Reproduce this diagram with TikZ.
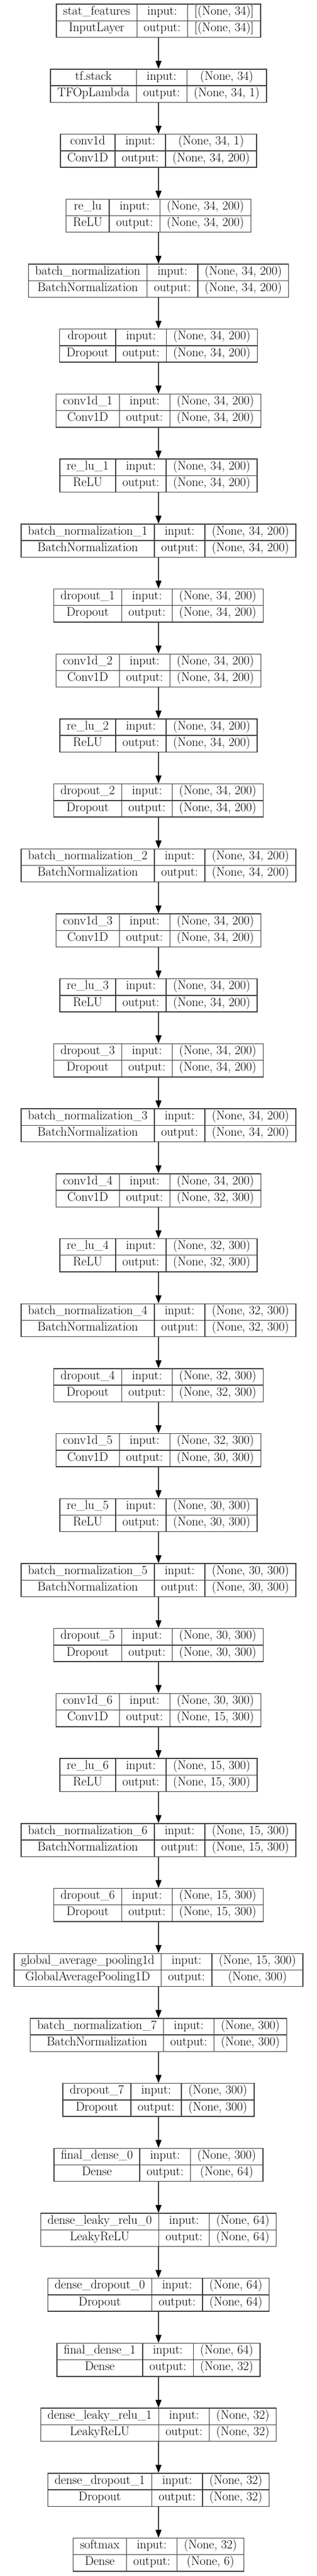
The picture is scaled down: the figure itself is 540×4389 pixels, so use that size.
\documentclass[tikz,border=0pt]{standalone}
\usepackage{fontspec}
\usepackage{colortbl}
\usetikzlibrary{arrows.meta}
\usetikzlibrary{positioning}

\setlength{\arrayrulewidth}{1.4pt}
\setlength{\tabcolsep}{11pt}
\arrayrulecolor{black!75}
\newcommand{\lstrut}{\rule[-9.3pt]{0pt}{19pt}}
\newcommand{\kerasbox}[4]{%
  \begin{tabular}{|c|c|c|}\hline
    \lstrut #1 & input: & #3\\\hline
    \lstrut #2 & output: & #4\\\hline
  \end{tabular}}

\begin{document}
\begin{tikzpicture}[
    node distance=110.7pt,
    layer/.style={inner sep=0pt, outer sep=0pt, font=\fontsize{21.3}{25}\selectfont},
    flow/.style={draw=black!75, line width=1.4pt,
      -{Triangle[length=13.5pt, width=10pt, color=black]}}
  ]
        \useasboundingbox (0,0) rectangle (540pt,-4389pt);

        \node[layer] (l1) at (270pt,-35.4pt) {\kerasbox{stat\_features}{InputLayer}{[(None, 34)]}{[(None, 34)]}};
        \node[layer, below of=l1] (l2) {\kerasbox{tf.stack}{TFOpLambda}{(None, 34)}{(None, 34, 1)}};
        \node[layer, below of=l2] (l3) {\kerasbox{conv1d}{Conv1D}{(None, 34, 1)}{(None, 34, 200)}};
        \node[layer, below of=l3] (l4) {\kerasbox{re\_lu}{ReLU}{(None, 34, 200)}{(None, 34, 200)}};
        \node[layer, below of=l4] (l5) {\kerasbox{batch\_normalization}{BatchNormalization}{(None, 34, 200)}{(None, 34, 200)}};
        \node[layer, below of=l5] (l6) {\kerasbox{dropout}{Dropout}{(None, 34, 200)}{(None, 34, 200)}};
        \node[layer, below of=l6] (l7) {\kerasbox{conv1d\_1}{Conv1D}{(None, 34, 200)}{(None, 34, 200)}};
        \node[layer, below of=l7] (l8) {\kerasbox{re\_lu\_1}{ReLU}{(None, 34, 200)}{(None, 34, 200)}};
        \node[layer, below of=l8] (l9) {\kerasbox{batch\_normalization\_1}{BatchNormalization}{(None, 34, 200)}{(None, 34, 200)}};
        \node[layer, below of=l9] (l10) {\kerasbox{dropout\_1}{Dropout}{(None, 34, 200)}{(None, 34, 200)}};
        \node[layer, below of=l10] (l11) {\kerasbox{conv1d\_2}{Conv1D}{(None, 34, 200)}{(None, 34, 200)}};
        \node[layer, below of=l11] (l12) {\kerasbox{re\_lu\_2}{ReLU}{(None, 34, 200)}{(None, 34, 200)}};
        \node[layer, below of=l12] (l13) {\kerasbox{dropout\_2}{Dropout}{(None, 34, 200)}{(None, 34, 200)}};
        \node[layer, below of=l13] (l14) {\kerasbox{batch\_normalization\_2}{BatchNormalization}{(None, 34, 200)}{(None, 34, 200)}};
        \node[layer, below of=l14] (l15) {\kerasbox{conv1d\_3}{Conv1D}{(None, 34, 200)}{(None, 34, 200)}};
        \node[layer, below of=l15] (l16) {\kerasbox{re\_lu\_3}{ReLU}{(None, 34, 200)}{(None, 34, 200)}};
        \node[layer, below of=l16] (l17) {\kerasbox{dropout\_3}{Dropout}{(None, 34, 200)}{(None, 34, 200)}};
        \node[layer, below of=l17] (l18) {\kerasbox{batch\_normalization\_3}{BatchNormalization}{(None, 34, 200)}{(None, 34, 200)}};
        \node[layer, below of=l18] (l19) {\kerasbox{conv1d\_4}{Conv1D}{(None, 34, 200)}{(None, 32, 300)}};
        \node[layer, below of=l19] (l20) {\kerasbox{re\_lu\_4}{ReLU}{(None, 32, 300)}{(None, 32, 300)}};
        \node[layer, below of=l20] (l21) {\kerasbox{batch\_normalization\_4}{BatchNormalization}{(None, 32, 300)}{(None, 32, 300)}};
        \node[layer, below of=l21] (l22) {\kerasbox{dropout\_4}{Dropout}{(None, 32, 300)}{(None, 32, 300)}};
        \node[layer, below of=l22] (l23) {\kerasbox{conv1d\_5}{Conv1D}{(None, 32, 300)}{(None, 30, 300)}};
        \node[layer, below of=l23] (l24) {\kerasbox{re\_lu\_5}{ReLU}{(None, 30, 300)}{(None, 30, 300)}};
        \node[layer, below of=l24] (l25) {\kerasbox{batch\_normalization\_5}{BatchNormalization}{(None, 30, 300)}{(None, 30, 300)}};
        \node[layer, below of=l25] (l26) {\kerasbox{dropout\_5}{Dropout}{(None, 30, 300)}{(None, 30, 300)}};
        \node[layer, below of=l26] (l27) {\kerasbox{conv1d\_6}{Conv1D}{(None, 30, 300)}{(None, 15, 300)}};
        \node[layer, below of=l27] (l28) {\kerasbox{re\_lu\_6}{ReLU}{(None, 15, 300)}{(None, 15, 300)}};
        \node[layer, below of=l28] (l29) {\kerasbox{batch\_normalization\_6}{BatchNormalization}{(None, 15, 300)}{(None, 15, 300)}};
        \node[layer, below of=l29] (l30) {\kerasbox{dropout\_6}{Dropout}{(None, 15, 300)}{(None, 15, 300)}};
        \node[layer, below of=l30] (l31) {\kerasbox{global\_average\_pooling1d}{GlobalAveragePooling1D}{(None, 15, 300)}{(None, 300)}};
        \node[layer, below of=l31] (l32) {\kerasbox{batch\_normalization\_7}{BatchNormalization}{(None, 300)}{(None, 300)}};
        \node[layer, below of=l32] (l33) {\kerasbox{dropout\_7}{Dropout}{(None, 300)}{(None, 300)}};
        \node[layer, below of=l33] (l34) {\kerasbox{final\_dense\_0}{Dense}{(None, 300)}{(None, 64)}};
        \node[layer, below of=l34] (l35) {\kerasbox{dense\_leaky\_relu\_0}{LeakyReLU}{(None, 64)}{(None, 64)}};
        \node[layer, below of=l35] (l36) {\kerasbox{dense\_dropout\_0}{Dropout}{(None, 64)}{(None, 64)}};
        \node[layer, below of=l36] (l37) {\kerasbox{final\_dense\_1}{Dense}{(None, 64)}{(None, 32)}};
        \node[layer, below of=l37] (l38) {\kerasbox{dense\_leaky\_relu\_1}{LeakyReLU}{(None, 32)}{(None, 32)}};
        \node[layer, below of=l38] (l39) {\kerasbox{dense\_dropout\_1}{Dropout}{(None, 32)}{(None, 32)}};
        \node[layer, below of=l39] (l40) {\kerasbox{softmax}{Dense}{(None, 32)}{(None, 6)}};

        \draw[flow]
        (l1) edge (l2)   (l2) edge (l3)   (l3) edge (l4)   (l4) edge (l5)
        (l5) edge (l6)   (l6) edge (l7)   (l7) edge (l8)   (l8) edge (l9)
        (l9) edge (l10)  (l10) edge (l11) (l11) edge (l12) (l12) edge (l13)
        (l13) edge (l14) (l14) edge (l15) (l15) edge (l16) (l16) edge (l17)
        (l17) edge (l18) (l18) edge (l19) (l19) edge (l20) (l20) edge (l21)
        (l21) edge (l22) (l22) edge (l23) (l23) edge (l24) (l24) edge (l25)
        (l25) edge (l26) (l26) edge (l27) (l27) edge (l28) (l28) edge (l29)
        (l29) edge (l30) (l30) edge (l31) (l31) edge (l32) (l32) edge (l33)
        (l33) edge (l34) (l34) edge (l35) (l35) edge (l36) (l36) edge (l37)
        (l37) edge (l38) (l38) edge (l39) (l39) edge (l40);
      \end{tikzpicture}
\end{document}
